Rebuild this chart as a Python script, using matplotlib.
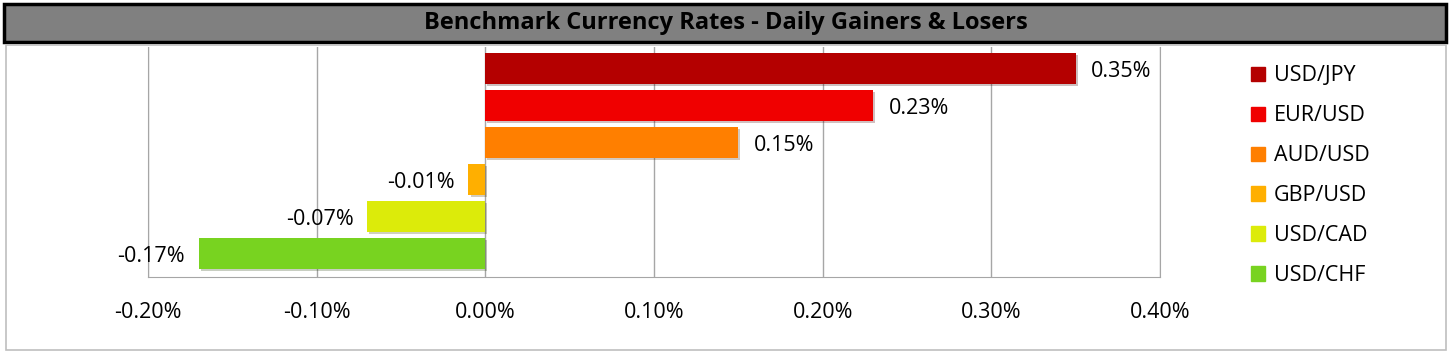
import matplotlib.pyplot as plt
import matplotlib.patches as mpatches
import matplotlib.patheffects as pe
from matplotlib.ticker import FuncFormatter

plt.rcParams['font.family'] = ['Open Sans', 'DejaVu Sans']

pairs = ['USD/JPY', 'EUR/USD', 'AUD/USD', 'GBP/USD', 'USD/CAD', 'USD/CHF']
changes = [0.35, 0.23, 0.15, -0.01, -0.07, -0.17]  # percent
colors = ['#B40000', '#F00000', '#FF7F00', '#FFAF00', '#DCEB0A', '#78D320']
x_ticks = [-0.20, -0.10, 0.00, 0.10, 0.20, 0.30, 0.40]

fig = plt.figure(figsize=(14.52, 3.54), dpi=100)

# title banner
fig.patches.append(mpatches.Rectangle((4 / 1452, 1 - 42 / 354), 1442 / 1452, 38 / 354,
                                      transform=fig.transFigure, facecolor='#808080',
                                      edgecolor='black', linewidth=2.5, zorder=-2))
fig.text(0.5, 1 - 23 / 354, 'Benchmark Currency Rates - Daily Gainers & Losers',
         ha='center', va='center', fontsize=17, fontweight='bold', color='black')

# outer chart frame
fig.patches.append(mpatches.Rectangle((6 / 1452, 1 - 350 / 354), 1440 / 1452, 305 / 354,
                                      transform=fig.transFigure, facecolor='white',
                                      edgecolor='#BFBFBF', linewidth=1.2, zorder=-2))

ax = fig.add_axes([148 / 1452, 1 - 277 / 354, 1012 / 1452, 230 / 354])
ax.set_facecolor('none')

ypos = list(range(len(pairs)))
bars = ax.barh(ypos, changes, height=0.84, color=colors, zorder=3)
for b in bars:
    b.set_path_effects([pe.SimplePatchShadow(offset=(1.5, -1.5), alpha=0.25), pe.Normal()])

for y, v in zip(ypos, changes):
    if v >= 0:
        ax.annotate(f'{v:.2f}%', (v, y), xytext=(11, -2), textcoords='offset points',
                    ha='left', va='center', fontsize=15.5)
    else:
        ax.annotate(f'{v:.2f}%', (v, y), xytext=(-10, -2), textcoords='offset points',
                    ha='right', va='center', fontsize=15.5)

ax.set_xlim(-0.20, 0.40)
ax.set_ylim(5.635, -0.58)
ax.set_xticks(x_ticks)
ax.xaxis.set_major_formatter(FuncFormatter(lambda v, p: f'{v:.2f}%'))
ax.set_yticks([])
ax.tick_params(axis='x', length=0, pad=18, labelsize=15.5)
ax.grid(axis='x', color='#A6A6A6', linewidth=1, zorder=0)
for s in ['left', 'right', 'bottom']:
    ax.spines[s].set_color('#A6A6A6')
ax.spines['top'].set_visible(False)

handles = [mpatches.Patch(color=c, label=p) for c, p in zip(colors, pairs)]
fig.legend(handles=handles, loc='upper left', bbox_to_anchor=(1232 / 1452, 1 - 46 / 354),
           frameon=False, fontsize=15.5, handlelength=0.65, handleheight=0.65,
           handletextpad=0.4, labelspacing=0.88)

fig.savefig('out.png', dpi=100)
